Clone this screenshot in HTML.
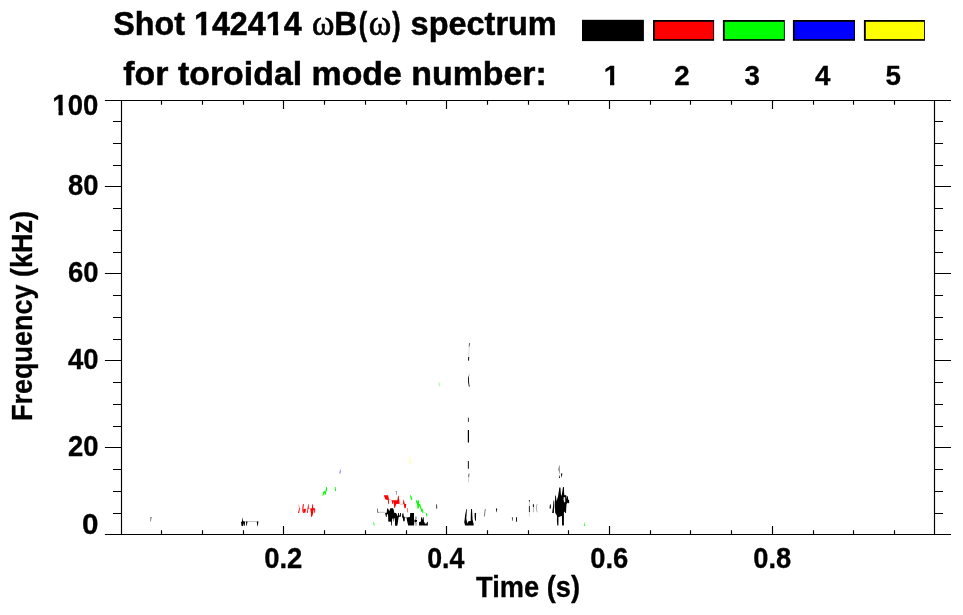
<!DOCTYPE html>
<html lang="en">
<head>
<meta charset="utf-8">
<title>Shot 142414 spectrum</title>
<style>
html,body{margin:0;padding:0;background:#fff;}
body{width:963px;height:615px;overflow:hidden;}
svg{display:block;}
</style>
</head>
<body>
<svg width="963" height="615" viewBox="0 0 963 615">
<rect width="963" height="615" fill="#fff"/>
<g stroke="#000" stroke-width="1.15" fill="none" stroke-linecap="butt">
<path d="M104.9 100.5H951M104.9 534.5H951"/>
<path d="M121.5 100.5V534.5M934.5 100.5V534.5"/>
<path d="M113 513.5H121.5M934.5 513.5H943M113 491.5H121.5M934.5 491.5H943M113 469.5H121.5M934.5 469.5H943M104.9 447.5H121.5M934.5 447.5H951M113 426.5H121.5M934.5 426.5H943M113 404.5H121.5M934.5 404.5H943M113 382.5H121.5M934.5 382.5H943M104.9 360.5H121.5M934.5 360.5H951M113 339.5H121.5M934.5 339.5H943M113 317.5H121.5M934.5 317.5H943M113 295.5H121.5M934.5 295.5H943M104.9 273.5H121.5M934.5 273.5H951M113 252.5H121.5M934.5 252.5H943M113 230.5H121.5M934.5 230.5H943M113 208.5H121.5M934.5 208.5H943M104.9 186.5H121.5M934.5 186.5H951M113 165.5H121.5M934.5 165.5H943M113 143.5H121.5M934.5 143.5H943M113 121.5H121.5M934.5 121.5H943"/>
<path d="M161.5 534.5v-4.3M161.5 100.5v4.3M202.5 534.5v-4.3M202.5 100.5v4.3M243.5 534.5v-4.3M243.5 100.5v4.3M283.5 534.5v-8.5M283.5 100.5v8.5M324.5 534.5v-4.3M324.5 100.5v4.3M365.5 534.5v-4.3M365.5 100.5v4.3M406.5 534.5v-4.3M406.5 100.5v4.3M446.5 534.5v-8.5M446.5 100.5v8.5M487.5 534.5v-4.3M487.5 100.5v4.3M528.5 534.5v-4.3M528.5 100.5v4.3M568.5 534.5v-4.3M568.5 100.5v4.3M609.5 534.5v-8.5M609.5 100.5v8.5M650.5 534.5v-4.3M650.5 100.5v4.3M690.5 534.5v-4.3M690.5 100.5v4.3M731.5 534.5v-4.3M731.5 100.5v4.3M772.5 534.5v-8.5M772.5 100.5v8.5M813.5 534.5v-4.3M813.5 100.5v4.3M853.5 534.5v-4.3M853.5 100.5v4.3M894.5 534.5v-4.3M894.5 100.5v4.3"/>
</g>
<rect x="582" y="19.8" width="61.9" height="21.3" fill="#000"/>
<rect x="653.0" y="20" width="61.1" height="20.8" fill="#000"/><rect x="654.9" y="21.8" width="58.3" height="17.3" fill="#ff0000"/>
<rect x="722.9" y="20" width="61.9" height="20.8" fill="#000"/><rect x="724.8" y="21.8" width="59.1" height="17.3" fill="#00ff00"/>
<rect x="792.9" y="20" width="62.1" height="20.8" fill="#000"/><rect x="794.8" y="21.8" width="59.3" height="17.3" fill="#0000ff"/>
<rect x="863.9" y="20" width="61.0" height="20.8" fill="#000"/><rect x="865.8" y="21.8" width="58.2" height="17.3" fill="#ffff00"/>
<g font-family="'Liberation Sans', Arial, Helvetica, sans-serif" font-weight="bold" fill="#000">
<g transform="matrix(0.9786 0 0 1.0200 113.28 34.90)"><text font-size="33" stroke="#000" stroke-width="0.500">Shot 142414</text><rect x="83.15" y="-4.32" width="6.68" height="5.62" fill="#fff"/><rect x="95.08" y="-4.32" width="6.21" height="5.62" fill="#fff"/><rect x="156.56" y="-4.32" width="6.68" height="5.62" fill="#fff"/><rect x="168.49" y="-4.32" width="6.21" height="5.62" fill="#fff"/></g>
<text transform="matrix(0.9616 0 0 1.0000 312.08 35.10)" font-size="35.5" font-family="'Liberation Serif', 'DejaVu Serif', serif" font-weight="normal" stroke="#000" stroke-width="0.714">ω</text>
<text transform="matrix(0.9687 0 0 1.0300 334.27 34.90)" font-size="33" stroke="#000" stroke-width="0.500">B</text>
<text transform="matrix(0.7576 0 0 1.0300 358.80 34.90)" font-size="33" stroke="#000" stroke-width="0.559">(</text>
<text transform="matrix(0.9616 0 0 1.0000 368.78 35.10)" font-size="35.5" font-family="'Liberation Serif', 'DejaVu Serif', serif" font-weight="normal" stroke="#000" stroke-width="0.714">ω</text>
<text transform="matrix(0.7576 0 0 1.0300 392.32 34.90)" font-size="33" stroke="#000" stroke-width="0.559">)</text>
<text transform="matrix(0.9837 0 0 1.0000 410.61 34.90)" font-size="33" stroke="#000" stroke-width="0.504">spectrum</text>
<text transform="matrix(1.0270 0 0 1.0000 123.34 85.30)" font-size="33" stroke="#000" stroke-width="0.493">for toroidal mode number:</text>
<g transform="matrix(0.98 0 0 1 611.50 84.9)"><text font-size="28.3" text-anchor="middle" stroke="#000" stroke-width="0.3">1</text><rect x="-7.38" y="-3.83" width="5.87" height="5.13" fill="#fff"/><rect x="2.86" y="-3.83" width="5.47" height="5.13" fill="#fff"/></g>
<g transform="matrix(0.98 0 0 1 681.90 84.9)"><text font-size="28.3" text-anchor="middle" stroke="#000" stroke-width="0.3">2</text></g>
<g transform="matrix(0.98 0 0 1 752.30 84.9)"><text font-size="28.3" text-anchor="middle" stroke="#000" stroke-width="0.3">3</text></g>
<g transform="matrix(0.98 0 0 1 822.70 84.9)"><text font-size="28.3" text-anchor="middle" stroke="#000" stroke-width="0.3">4</text></g>
<g transform="matrix(0.98 0 0 1 893.10 84.9)"><text font-size="28.3" text-anchor="middle" stroke="#000" stroke-width="0.3">5</text></g>
<g transform="matrix(0.9732 0 0 1.0200 52.36 114.90)"><text font-size="28.3" stroke="#000" stroke-width="0.301">100</text><rect x="0.49" y="-3.83" width="5.87" height="5.13" fill="#fff"/><rect x="10.73" y="-3.83" width="5.47" height="5.13" fill="#fff"/></g>
<text transform="matrix(0.9698 0 0 1.0200 67.88 195.30)" font-size="28.3" stroke="#000" stroke-width="0.302">80</text>
<text transform="matrix(0.9698 0 0 1.0200 67.88 282.20)" font-size="28.3" stroke="#000" stroke-width="0.302">60</text>
<text transform="matrix(0.9700 0 0 1.0200 67.88 369.20)" font-size="28.3" stroke="#000" stroke-width="0.302">40</text>
<text transform="matrix(0.9698 0 0 1.0200 67.88 456.00)" font-size="28.3" stroke="#000" stroke-width="0.302">20</text>
<text transform="matrix(1.0489 0 0 1.0200 81.96 534.30)" font-size="28.3" stroke="#000" stroke-width="0.290">0</text>
<text transform="matrix(0.9711 0 0 1.0200 264.20 567.90)" font-size="28.3" stroke="#000" stroke-width="0.301">0.2</text>
<text transform="matrix(0.9458 0 0 1.0200 427.23 567.90)" font-size="28.3" stroke="#000" stroke-width="0.305">0.4</text>
<text transform="matrix(0.9674 0 0 1.0200 590.20 567.90)" font-size="28.3" stroke="#000" stroke-width="0.302">0.6</text>
<text transform="matrix(0.9637 0 0 1.0200 753.21 567.90)" font-size="28.3" stroke="#000" stroke-width="0.302">0.8</text>
<text transform="matrix(0.9627 0 0 1.0100 476.08 596.80)" font-size="28.3" stroke="#000" stroke-width="0.304">Time (s)</text>
<text transform="matrix(0 -0.9538 1.0100 0 31.60 420.90)" font-size="28.3" stroke="#000" stroke-width="0.306">Frequency (kHz)</text>
</g>
<g id="spectrum">
<polygon points="150.3,517.0 152.0,517.0 151.3,518.5 151.0,521.5 150.3,521.5" fill="#000" fill-opacity="0.55"/>
<polygon points="242.5,517.3 243.2,521.3 245.0,521.5 244.8,525.8 244.2,525.8 243.8,523.0 243.2,526.0 241.6,526.0 241.0,522.0 242.0,521.5" fill="#000"/>
<polygon points="246.0,521.6 247.5,521.6 246.8,525.8 246.3,525.8" fill="#000"/>
<line x1="245" y1="521.6" x2="258.3" y2="521.6" stroke="#000" stroke-width="0.7" stroke-opacity="0.35"/>
<polygon points="256.8,521.6 258.4,521.6 257.8,526.0 257.3,526.0" fill="#000"/>
<polygon points="298.2,504.2 298.8,504.2 300.1,508.1 299.3,508.4" fill="#f00" fill-opacity="0.4"/>
<polygon points="299.3,508.1 300.1,508.1 299.1,513.0 297.9,513.0" fill="#f00" fill-opacity="0.9"/>
<polygon points="303.0,504.0 303.9,504.2 303.4,508.5 303.5,510.5 302.7,512.8 302.3,510.0 302.5,506.5" fill="#f00"/>
<polygon points="303.4,508.9 305.9,508.7 305.5,512.6 303.0,512.9" fill="#f00"/>
<polygon points="308.2,504.2 308.8,504.2 308.6,507.8 309.4,507.8 309.3,508.6 308.3,508.8 307.8,513.0 307.0,513.0 307.5,508.5" fill="#f00"/>
<polygon points="312.3,504.2 312.9,504.2 313.2,508.1 315.1,508.6 315.1,512.8 314.3,512.8 314.1,509.8 313.5,509.8 313.2,513.0 312.2,516.2 311.7,516.9 311.2,516.9 310.9,513.0 310.4,509.8 310.2,508.6 311.9,508.3" fill="#f00"/>
<polygon points="326.0,487.0 327.0,487.0 327.0,491.0 326.2,491.5 325.6,495.0 324.8,495.0 324.6,492.5 323.5,495.5 322.6,495.5 323.3,491.5 325.6,491.0" fill="#0f0"/>
<line x1="320.8" y1="495.5" x2="323" y2="495.3" stroke="#0f0" stroke-width="0.6" stroke-opacity="0.4"/>
<polygon points="334.8,487.0 335.6,487.0 336.0,491.0 335.0,491.0" fill="#0f0"/>
<polygon points="340.5,469.3 341.0,469.3 340.8,473.6 339.2,473.6 339.6,471.5" fill="#00f" fill-opacity="0.42"/>
<polygon points="373.1,521.8 373.8,521.8 374.9,525.6 373.4,525.6" fill="#0f0" fill-opacity="0.6"/>
<polygon points="377.2,508.5 377.9,508.5 378.0,511.8 378.9,512.0 378.9,512.7 377.2,512.6" fill="#000" fill-opacity="0.7"/>
<line x1="378.9" y1="512.3" x2="385.4" y2="512.3" stroke="#000" stroke-width="0.7" stroke-opacity="0.35"/>
<polygon points="395.3,490.9 397.0,490.9 397.0,494.8 396.3,494.8 396.3,491.6 395.3,491.6" fill="#000" fill-opacity="0.5"/>
<polygon points="387.1,508.4 388.1,508.4 389.2,511.2 390.1,508.7 390.5,508.2 393.1,508.2 393.8,509.9 394.2,512.7 395.9,512.9 396.6,513.8 397.4,515.9 397.8,515.9 398.0,513.0 398.9,512.9 399.1,515.6 399.8,515.6 400.1,513.1 400.9,513.1 401.0,516.6 399.4,516.8 398.7,517.0 398.2,520.0 397.8,522.9 397.4,525.4 396.8,525.8 395.1,525.8 395.0,523.7 395.0,520.7 394.7,518.1 394.2,518.2 394.0,521.5 393.6,521.6 393.4,518.5 392.8,518.2 392.2,519.2 391.9,521.5 392.0,525.4 391.3,525.6 391.0,521.8 388.2,521.5 388.2,517.3 387.9,514.2 386.9,514.2 386.7,516.7 386.0,517.0 385.3,514.2 385.1,513.0 386.7,512.8" fill="#000"/>
<polygon points="402.2,514.0 403.4,513.8 403.8,516.2 404.9,517.3 404.7,521.1 403.4,521.6 402.8,518.1 402.1,517.0" fill="#000"/>
<polygon points="402.2,513.0 403.5,513.0 403.5,514.0 402.2,514.0" fill="#000" fill-opacity="0.4"/>
<polygon points="406.5,517.4 409.9,517.0 410.2,512.9 414.0,512.9 414.0,518.1 414.3,522.0 414.0,525.6 408.2,525.6 407.2,521.5" fill="#000"/>
<polygon points="414.4,520.3 415.7,519.2 417.0,520.3 417.0,521.5 415.8,522.6 414.4,521.5" fill="#000"/>
<polygon points="415.3,516.6 416.6,516.6 416.8,519.0 415.2,519.0" fill="#000" fill-opacity="0.45"/>
<polygon points="415.2,522.6 416.7,522.6 416.5,525.7 415.5,525.7" fill="#000" fill-opacity="0.45"/>
<polygon points="419.0,522.2 420.9,521.6 421.1,517.3 421.6,517.0 422.3,519.8 423.0,517.0 423.6,517.3 424.0,521.8 424.4,523.7 424.8,521.6 425.4,523.7 425.9,524.4 426.5,523.3 427.3,521.8 427.8,522.0 427.9,525.6 419.1,525.6" fill="#000"/>
<line x1="405.0" y1="517.35" x2="407.0" y2="517.35" stroke="#000" stroke-width="0.6" stroke-opacity="0.6"/>
<polygon points="384.0,495.2 388.1,495.2 388.8,498.2 389.1,503.7 388.3,504.0 387.8,500.0 385.4,499.6 384.0,495.9" fill="#f00"/>
<line x1="388.8" y1="499.2" x2="392" y2="500.4" stroke="#f00" stroke-width="0.6" stroke-opacity="0.45"/>
<polygon points="391.9,500.3 397.3,500.3 398.2,495.5 398.7,495.9 399.7,503.7 396.3,504.0 394.9,507.8 394.2,508.2 393.9,504.4 393.2,501.3 392.9,503.7 392.2,504.0 391.7,500.6" fill="#f00"/>
<line x1="399.7" y1="504.1" x2="403.5" y2="504.3" stroke="#f00" stroke-width="0.6" stroke-opacity="0.45"/>
<polygon points="403.3,500.0 403.8,500.0 404.8,504.0 406.1,504.0 405.9,507.8 404.5,508.5 403.8,504.0 403.0,503.7" fill="#f00"/>
<polygon points="407.2,507.8 407.9,508.5 407.8,512.6 407.2,512.2" fill="#f00" fill-opacity="0.85"/>
<polygon points="410.1,495.2 410.9,495.2 412.2,498.2 412.0,500.0 411.1,499.7 410.2,496.5" fill="#0f0"/>
<polygon points="415.8,500.2 416.7,500.0 417.4,501.7 417.9,500.2 418.8,500.3 419.1,504.0 420.2,504.0 420.8,506.4 421.5,508.5 422.5,508.5 423.2,511.9 423.6,512.6 422.2,512.7 421.2,511.2 420.2,507.8 419.5,505.8 418.8,508.2 417.4,508.5 417.1,504.4 416.1,501.7" fill="#0f0"/>
<line x1="423.6" y1="512.4" x2="426" y2="512.6" stroke="#0f0" stroke-width="0.6" stroke-opacity="0.45"/>
<polygon points="425.8,512.9 426.8,512.9 427.3,516.3 426.5,516.7" fill="#0f0"/>
<polygon points="436.3,504.2 437.0,504.2 437.2,508.6 436.1,508.6" fill="#000" fill-opacity="0.8"/>
<polygon points="409.3,457.0 410.0,457.0 410.8,464.3 410.0,464.3" fill="#ff0" fill-opacity="0.55"/>
<polygon points="438.6,382.2 439.2,382.2 439.8,386.3 439.0,386.3" fill="#0f0" fill-opacity="0.55"/>
<line x1="469.6" y1="343" x2="469.2" y2="346.5" stroke="#000" stroke-width="1" stroke-opacity="0.6"/>
<line x1="469.2" y1="346.5" x2="468.7" y2="357" stroke="#000" stroke-width="0.6" stroke-opacity="0.25"/>
<line x1="468.7" y1="357" x2="468.5" y2="360.6" stroke="#000" stroke-width="1.1" stroke-opacity="0.9"/>
<polygon points="469.4,373.7 469.0,377.0 469.0,381.5 469.6,386.8 468.9,386.8 468.1,382.0 468.1,378.0" fill="#000"/>
<line x1="468.4" y1="417.7" x2="468.4" y2="421.9" stroke="#000" stroke-width="1" stroke-opacity="0.8"/>
<line x1="468.4" y1="430" x2="468.4" y2="442.4" stroke="#000" stroke-width="1.2"/>
<line x1="468.4" y1="461" x2="468.4" y2="468.7" stroke="#000" stroke-width="1.1" stroke-opacity="0.85"/>
<line x1="469" y1="473.5" x2="468.6" y2="477" stroke="#000" stroke-width="1" stroke-opacity="0.6"/>
<line x1="468.6" y1="477" x2="468.4" y2="482.5" stroke="#000" stroke-width="0.6" stroke-opacity="0.3"/>
<polygon points="466.4,509.0 466.9,509.0 466.6,514.5 466.3,518.5 467.4,523.6 468.4,521.3 470.7,521.0 470.8,514.5 471.1,509.0 472.0,509.0 472.3,514.5 472.6,519.7 473.7,524.3 473.6,525.6 465.1,525.6 464.2,522.3 464.6,519.7 465.2,514.5" fill="#000"/>
<polygon points="474.6,512.9 476.1,512.9 475.9,520.7 475.1,520.7 474.6,517.1" fill="#000"/>
<line x1="485.3" y1="509" x2="484.3" y2="516.5" stroke="#000" stroke-width="1" stroke-opacity="0.5"/>
<polygon points="495.9,508.4 497.2,508.4 496.6,512.3 496.3,512.3" fill="#000"/>
<polygon points="511.9,517.2 512.7,517.2 512.6,520.8 512.1,520.8" fill="#000"/>
<polygon points="516.0,517.2 516.9,517.2 516.9,521.8 516.0,521.8" fill="#000"/>
<line x1="529.4" y1="500" x2="529.4" y2="501.5" stroke="#000" stroke-width="1" stroke-opacity="0.9"/>
<line x1="529.4" y1="501.5" x2="529.4" y2="506" stroke="#000" stroke-width="0.6" stroke-opacity="0.3"/>
<line x1="529.4" y1="506" x2="529.4" y2="512" stroke="#000" stroke-width="1" stroke-opacity="0.85"/>
<line x1="529.4" y1="512" x2="529.4" y2="516.8" stroke="#000" stroke-width="0.6" stroke-opacity="0.25"/>
<line x1="533.4" y1="504.2" x2="533.4" y2="507" stroke="#000" stroke-width="1.1" stroke-opacity="0.9"/>
<line x1="533.4" y1="507" x2="533.4" y2="512.3" stroke="#000" stroke-width="0.7" stroke-opacity="0.4"/>
<polygon points="537.4,504.0 536.6,508.0 537.4,512.3 536.9,512.3 536.0,508.0 536.9,504.0" fill="#000" fill-opacity="0.55"/>
<polygon points="555.2,512.9 554.8,504.4 555.2,495.6 555.9,495.6 556.5,501.3 557.9,496.7 558.8,491.4 559.3,487.5 560.4,487.5 560.9,494.2 561.6,495.9 562.4,491.0 563.0,487.1 563.9,487.1 564.2,494.6 565.0,495.6 565.6,495.1 566.4,495.4 566.7,498.9 567.3,496.0 567.9,496.3 568.2,499.5 569.2,500.5 569.1,503.4 567.9,502.8 566.6,503.7 566.3,507.2 566.0,512.9 565.2,512.9 564.9,511.5 563.9,512.5 563.9,525.5 562.1,525.5 561.9,515.9 560.9,515.9 560.1,516.8 558.5,517.1 558.4,525.5 557.3,525.5 556.9,520.6 557.0,515.9 556.0,514.1" fill="#000"/>
<polygon points="552.1,512.9 553.0,506.8 553.5,500.5 554.1,500.5 554.2,506.8 553.8,512.9" fill="#000"/>
<polygon points="549.5,508.5 550.0,504.4 550.9,504.4 550.9,508.5" fill="#000"/>
<polygon points="563.7,496.9 565.2,497.2 565.3,502.1 564.2,502.4 563.5,499.5" fill="#fff" fill-opacity="0.9"/>
<polygon points="559.4,465.2 559.8,465.2 559.9,470.7 559.7,473.9 559.4,473.9 558.9,471.4 558.1,469.5 558.8,467.1" fill="#000" fill-opacity="0.45"/>
<polygon points="559.5,474.8 560.1,477.9 558.9,477.9" fill="#000" fill-opacity="0.9"/>
<polygon points="560.8,473.4 562.4,473.4 562.0,475.7 561.5,477.9 561.2,475.7" fill="#000" fill-opacity="0.95"/>
<polygon points="583.6,526.0 584.9,522.0 585.2,526.0" fill="#0f0" fill-opacity="0.75"/>
</g>
</svg>
</body>
</html>
